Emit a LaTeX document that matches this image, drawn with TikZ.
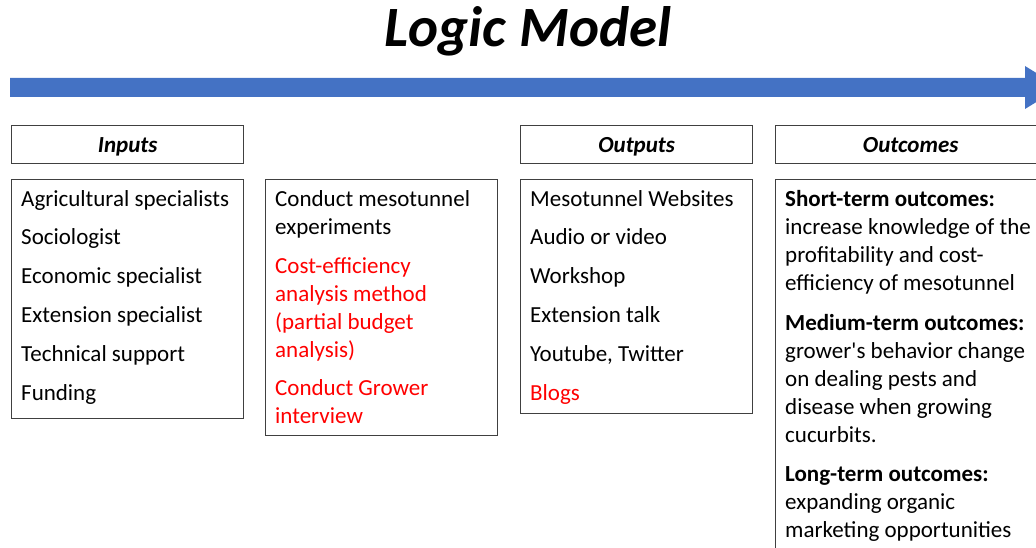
\documentclass[tikz,border=0pt]{standalone}
\usepackage{fontspec}
\setmainfont{Carlito}
\usepackage{tikz}
\definecolor{arrowblue}{HTML}{4472C4}
\definecolor{boxline}{HTML}{404040}
\definecolor{itemred}{HTML}{FF0000}

\begin{document}
\begin{tikzpicture}[x=1pt, y=-1pt, every node/.style={inner sep=0pt},
  headbox/.style={draw=boxline, line width=1.3pt, anchor=north west, minimum height=38pt, text height=18pt, text depth=3pt, font=\fontsize{23}{28}\selectfont\bfseries\itshape},
  listbox/.style={draw=boxline, line width=1.3pt, anchor=north west},
  listtext/.style={anchor=north west, align=left, font=\fontsize{23}{28}\selectfont}]
  \clip (0,0) rectangle (1036,548);
  \node (title) [font=\fontsize{57}{68}\selectfont\bfseries\itshape] at (528,31) {Logic Model};
  \fill[arrowblue] (10,78) -- (1025,78) -- (1025,66) -- (1060,87.5) -- (1025,109) -- (1025,97) -- (10,97) -- cycle;
  \node (inhead) [headbox, minimum width=232pt] at (11,125) {Inputs};
  \node (outhead) [headbox, minimum width=232pt] at (520,125) {Outputs};
  \node (ochead) [headbox, minimum width=270pt] at (775,125) {Outcomes};
  \node (inbox) [listbox, minimum width=232pt, minimum height=239pt] at (11,179) {};
  \node (actbox) [listbox, minimum width=232pt, minimum height=256pt] at (265,179) {};
  \node (outbox) [listbox, minimum width=232pt, minimum height=234pt] at (520,179) {};
  \node (ocbox) [listbox, minimum width=270pt, minimum height=400pt] at (775,179) {};
  \node (intext) [listtext] at ([shift={(10,11)}]inbox.north west)
    {Agricultural specialists\\[10.8pt] Sociologist\\[10.8pt] Economic specialist\\[10.8pt]
     Extension specialist\\[10.8pt] Technical support\\[10.8pt] Funding};
  \node (acttext) [listtext] at ([shift={(10,11)}]actbox.north west)
    {Conduct mesotunnel\\ experiments\\[11pt]
     \textcolor{itemred}{Cost-efficiency}\\ \textcolor{itemred}{analysis method}\\
     \textcolor{itemred}{(partial budget}\\ \textcolor{itemred}{analysis)}\\[10pt]
     \textcolor{itemred}{Conduct Grower}\\ \textcolor{itemred}{interview}};
  \node (outtext) [listtext] at ([shift={(10,11)}]outbox.north west)
    {Mesotunnel Websites\\[10.8pt] Audio or video\\[10.8pt] Workshop\\[10.8pt]
     Extension talk\\[10.8pt] Youtube, Twitter\\[10.8pt] \textcolor{itemred}{Blogs}};
  \node (octext) [listtext] at ([shift={(10,11)}]ocbox.north west)
    {\textbf{Short-term outcomes:}\\ increase knowledge of the\\ profitability and cost-\\ efficiency of mesotunnel\\[12pt]
     \textbf{Medium-term outcomes:}\\ grower\textquotesingle s behavior change\\ on dealing pests and\\ disease when growing\\ cucurbits.\\[11pt]
     \textbf{Long-term outcomes:}\\ expanding organic\\ marketing opportunities};
\end{tikzpicture}
\end{document}
